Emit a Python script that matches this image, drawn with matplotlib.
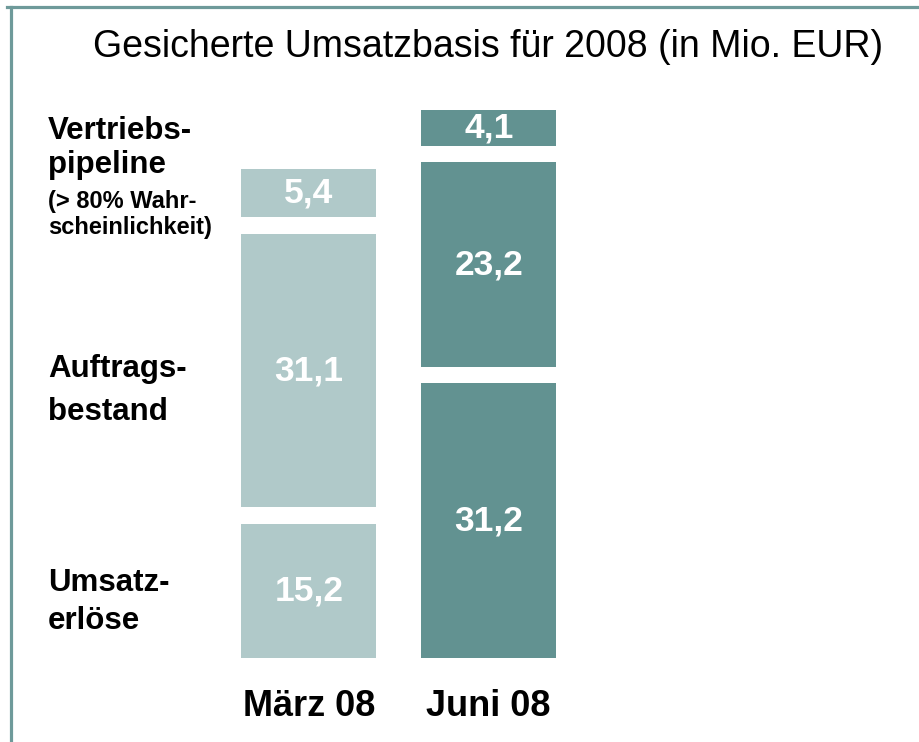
import matplotlib.pyplot as plt
from matplotlib.lines import Line2D

plt.rcParams["font.family"] = ["Liberation Sans", "DejaVu Sans"]

# data (Mio. EUR)
periods = ["März 08", "Juni 08"]
segments = ["Umsatzerlöse", "Auftragsbestand", "Vertriebspipeline"]
maerz = [15.2, 31.1, 5.4]
juni = [31.2, 23.2, 4.1]
bar_colors = ["#b0c9c9", "#629291"]

row_labels = [
    ("Vertriebs-", 22.5, 0.823), ("pipeline", 22.5, 0.778),
    ("(> 80% Wahr-", 17, 0.729), ("scheinlichkeit)", 17, 0.694),
    ("Auftrags-", 22.5, 0.503), ("bestand", 22.5, 0.445),
    ("Umsatz-", 22.5, 0.214), ("erlöse", 22.5, 0.163),
]

gap = 1.9

fig = plt.figure(figsize=(9.2, 7.42), dpi=100)
ax = fig.add_axes([0.238, 0.1132, 0.391, 0.783])

for i, (vals, color) in enumerate(zip([maerz, juni], bar_colors)):
    bottom = 0
    for v in vals:
        ax.bar(i, v, bottom=bottom, width=0.75, color=color, linewidth=0)
        ax.text(i, bottom + v / 2, f"{v:.1f}".replace(".", ","), ha="center", va="center",
                color="white", fontsize=25.5, fontweight="bold")
        bottom += v + gap

ax.set_xlim(-0.5, 1.5)
ax.set_ylim(0, 66)
ax.set_xticks(range(len(periods)))
ax.set_xticklabels(periods, fontsize=26, fontweight="bold")
ax.tick_params(axis="x", length=0, pad=22)
ax.set_yticks([])
for s in ax.spines.values():
    s.set_visible(False)

fig.text(0.531, 0.937, "Gesicherte Umsatzbasis für 2008 (in Mio. EUR)",
         ha="center", va="center", fontsize=27)

for txt, size, y in row_labels:
    fig.text(0.052, y, txt, ha="left", va="center", fontsize=size, fontweight="bold")

# frame lines
frame = "#6e9a9a"
fig.add_artist(Line2D([0.012, 0.012], [0, 0.991], color=frame, lw=2.3, transform=fig.transFigure))
fig.add_artist(Line2D([0.008, 1.0], [0.991, 0.991], color=frame, lw=2.3, transform=fig.transFigure))

fig.savefig("out.png", dpi=100)
